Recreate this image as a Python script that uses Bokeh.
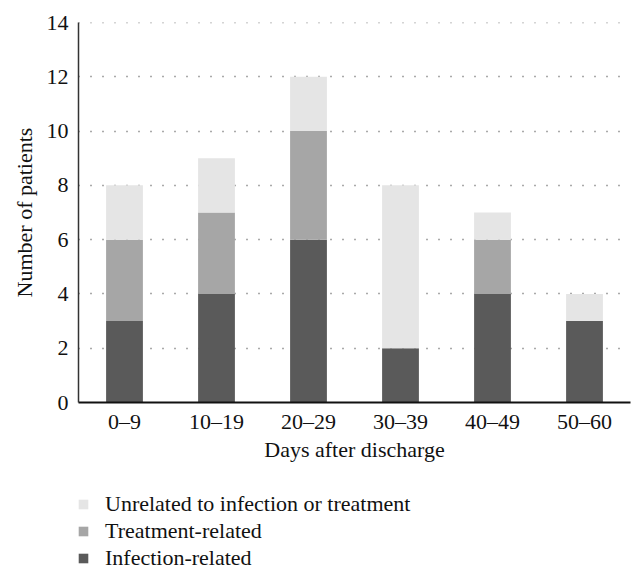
from bokeh.plotting import figure
from bokeh.models import Legend, LegendItem, Range1d, FactorRange
from bokeh.layouts import column
from bokeh.embed import file_html
from bokeh.resources import INLINE

categories = ["0\u20139", "10\u201319", "20\u201329", "30\u201339", "40\u201349", "50\u201360"]
infection = [3, 4, 6, 2, 4, 3]
treatment = [3, 3, 4, 0, 2, 0]
unrelated = [2, 2, 2, 6, 1, 1]
series = ["infection", "treatment", "unrelated"]
labels = {"unrelated": "Unrelated to infection or treatment",
          "treatment": "Treatment-related",
          "infection": "Infection-related"}
colors = ["#5a5a5a", "#a6a6a6", "#e5e5e5"]
y_ticks = [0, 2, 4, 6, 8, 10, 12, 14]

FONT = "Liberation Serif"

p = figure(x_range=FactorRange(*categories, range_padding=0), y_range=Range1d(0, 14.001),
           frame_width=552, frame_height=380, output_backend="svg", toolbar_location=None,
           min_border_left=78, min_border_top=22, min_border_right=4, min_border_bottom=0)
p.outline_line_color = None

data = {"cat": categories, "infection": infection, "treatment": treatment, "unrelated": unrelated}
rs = p.vbar_stack(series, x="cat", width=0.4, color=colors, line_color=None, source=data)

p.xgrid.grid_line_color = None
p.ygrid.grid_line_color = "#555555"
p.ygrid.grid_line_width = 1.5
p.ygrid.grid_line_dash = "1 11"
p.ygrid.ticker = y_ticks
p.yaxis.ticker = y_ticks

for ax in (p.xaxis[0], p.yaxis[0]):
    ax.major_tick_line_color = None
    ax.minor_tick_line_color = None
    ax.major_label_text_font = FONT
    ax.major_label_text_font_size = "22px"
    ax.major_label_text_color = "#111111"
    ax.axis_label_text_font = FONT
    ax.axis_label_text_font_size = "22px"
    ax.axis_label_text_font_style = "normal"
    ax.axis_label_text_color = "#111111"

p.xaxis.axis_line_color = "#111111"
p.xaxis.axis_line_width = 2
p.yaxis.axis_line_color = "#333333"
p.yaxis.axis_line_width = 1.5
p.xaxis.axis_label = "Days after discharge"
p.yaxis.axis_label = "Number of patients"
p.xaxis.major_label_standoff = 0
p.yaxis.major_label_standoff = 4
p.xaxis.axis_label_standoff = 0
p.yaxis.axis_label_standoff = 7

# legend panel below the chart (swatches drawn outside its visible range)
lg = figure(width=634, height=107, output_backend="svg", toolbar_location=None,
            x_range=Range1d(0, 1), y_range=Range1d(0, 1),
            x_axis_type=None, y_axis_type=None,
            min_border_left=0, min_border_right=0, min_border_top=0, min_border_bottom=0)
lg.outline_line_color = None
lg.xgrid.visible = False
lg.ygrid.visible = False
swatches = {s: lg.vbar(x=[-5], top=[-5], width=0.1, color=c, line_color=None)
            for s, c in zip(series, colors)}
items = [LegendItem(label=labels[s], renderers=[swatches[s]]) for s in series][::-1]
legend = Legend(items=items, location=(-1, 0), orientation="vertical",
                border_line_color=None, background_fill_alpha=0,
                glyph_width=12, glyph_height=12, label_standoff=16,
                label_text_font=FONT, label_text_font_size="22px", label_text_color="#111111",
                label_height=22, spacing=1, padding=0, margin=0)
lg.add_layout(legend, "center")

open("out.html", "w").write(file_html(column(p, lg, spacing=0), INLINE))
